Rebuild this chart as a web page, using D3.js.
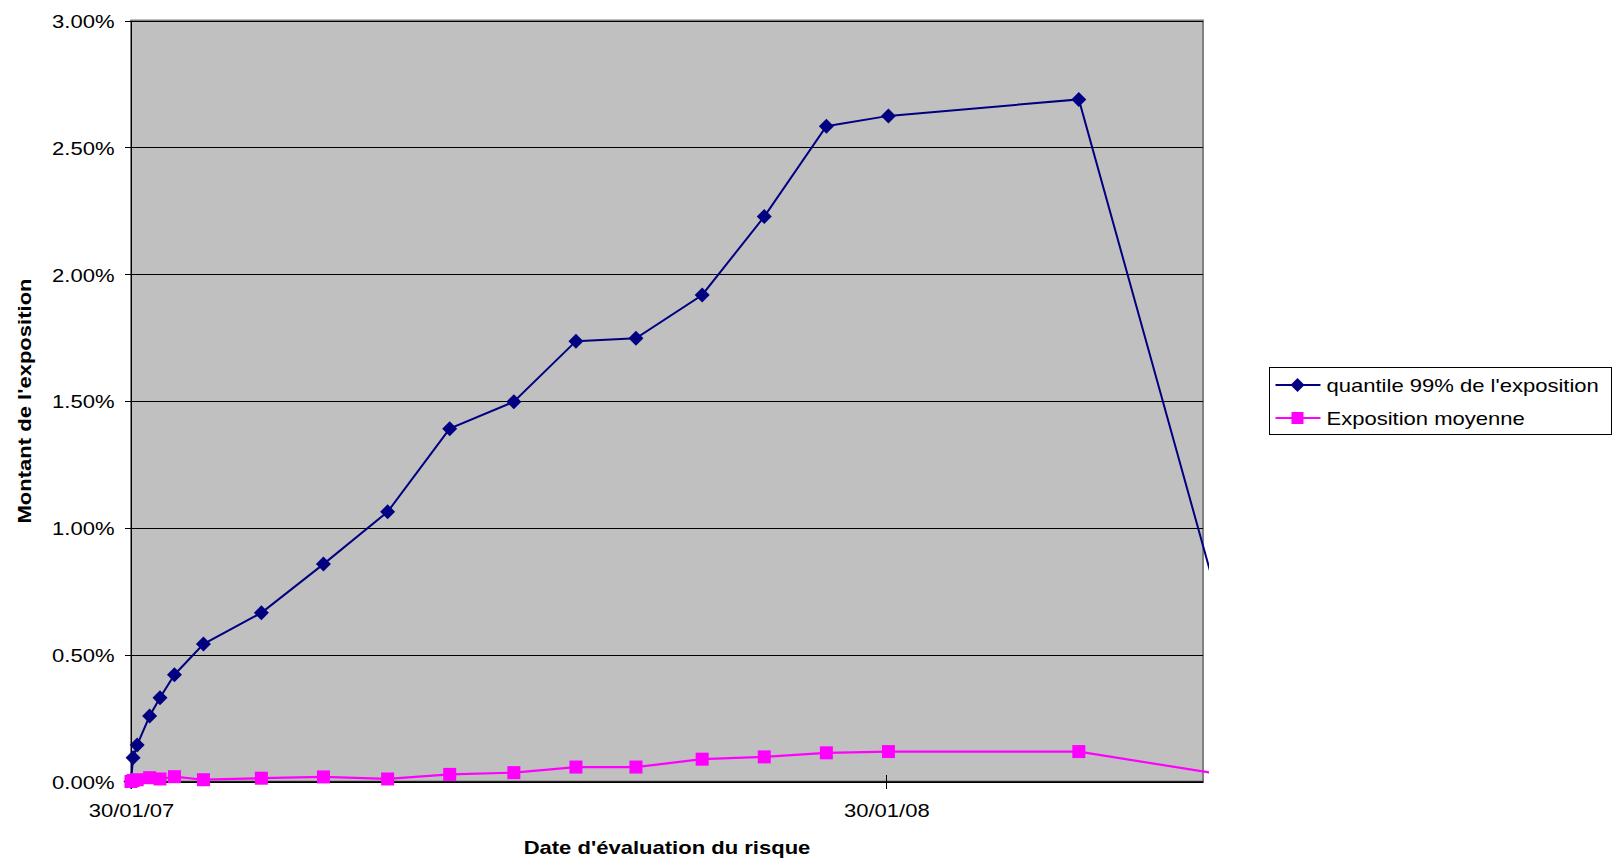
<!DOCTYPE html>
<html>
<head>
<meta charset="utf-8">
<script src="https://cdn.jsdelivr.net/npm/d3@7"></script>
<style>
  html, body { margin: 0; padding: 0; background: #ffffff; }
  svg { display: block; font-family: "Liberation Sans", Arial, sans-serif; }
</style>
</head>
<body>
<svg id="chart" width="1616" height="859"></svg>
<script>
// Evaluation dates (dd/mm/yy)
const evalDates = [
  "30/01/07", "31/01/07", "02/02/07", "08/02/07", "13/02/07", "20/02/07",
  "06/03/07", "03/04/07", "03/05/07", "03/06/07", "03/07/07", "03/08/07",
  "02/09/07", "01/10/07", "02/11/07", "02/12/07", "01/01/08", "31/01/08",
  "02/05/08", "31/07/08"
];
// 99% quantile of the exposure (in %)
const quantile99 = [
  0.000, 0.094, 0.144, 0.258, 0.330, 0.421,
  0.542, 0.665, 0.857, 1.063, 1.391, 1.497,
  1.736, 1.747, 1.918, 2.227, 2.583, 2.624,
  2.689, 0.050
];
// Mean exposure (in %)
const meanExposure = [
  0.000, 0.004, 0.007, 0.015, 0.010, 0.019,
  0.007, 0.013, 0.018, 0.010, 0.028, 0.035,
  0.057, 0.057, 0.088, 0.097, 0.113, 0.118,
  0.118, 0.000
];
const seriesNames = ["quantile 99% de l'exposition", "Exposition moyenne"];
const yTickValues = [0, 0.5, 1.0, 1.5, 2.0, 2.5, 3.0];
const xTickLabels = ["30/01/07", "30/01/08"];
const xAxisEnd = "01/07/08";
const xTitle = "Date d'évaluation du risque";
const yTitle = "Montant de l'exposition";

const parse = d3.timeParse("%d/%m/%y");
const fmtDate = d3.timeFormat("%d/%m/%y");
const fmtPct = v => d3.format(".2f")(v) + "%";

// Layout
const plot = { left: 131, right: 1203, top: 20.5, bottom: 781.5 };
const STRETCH = 1.16;      // wide rendering of the text face
const FONT = 19;
const colors = { q: "#000080", m: "#ff00ff", plotBg: "#c0c0c0" };

const svg = d3.select("#chart");

const x = d3.scaleTime()
  .domain([parse(evalDates[0]), parse(xAxisEnd)])
  .range([plot.left, plot.right]);
const y = d3.scaleLinear()
  .domain([0, 3])
  .range([plot.bottom, plot.top]);

// Plot background
svg.append("rect")
  .attr("x", plot.left).attr("y", plot.top)
  .attr("width", plot.right - plot.left)
  .attr("height", plot.bottom - plot.top)
  .attr("fill", colors.plotBg)
  .attr("stroke", "#808080")
  .attr("stroke-width", 2);

// Horizontal gridlines
const grid = svg.append("g")
  .attr("transform", `translate(${plot.left},0)`)
  .call(d3.axisLeft(y).tickValues(yTickValues).tickSize(-(plot.right - plot.left)).tickFormat(""));
grid.select(".domain").remove();
grid.selectAll("line").attr("stroke", "#000").attr("stroke-width", 1).attr("shape-rendering", "crispEdges");

// Y axis
const yAxis = svg.append("g")
  .attr("transform", `translate(${plot.left},0)`)
  .call(d3.axisLeft(y).tickValues(yTickValues).tickSize(6).tickSizeOuter(0).tickFormat(fmtPct));
yAxis.select(".domain").attr("stroke", "#000").attr("shape-rendering", "crispEdges");
yAxis.selectAll("line").attr("stroke", "#000").attr("shape-rendering", "crispEdges");
yAxis.selectAll("text")
  .attr("x", null).attr("dy", null)
  .attr("font-size", FONT)
  .attr("fill", "#000")
  .attr("text-anchor", "end")
  .attr("dominant-baseline", "central")
  .attr("transform", `translate(-16.5,0) scale(${STRETCH},1)`);

// X axis
const xAxis = svg.append("g")
  .attr("transform", `translate(0,${plot.bottom})`)
  .call(d3.axisBottom(x).tickValues(xTickLabels.map(parse)).tickSize(7).tickSizeOuter(0).tickFormat(fmtDate));
xAxis.select(".domain").attr("stroke", "#000").attr("stroke-width", 1.5);
xAxis.selectAll(".tick line").attr("y1", -7).attr("stroke", "#000").attr("shape-rendering", "crispEdges");
xAxis.selectAll("text")
  .attr("y", null).attr("dy", null)
  .attr("font-size", FONT)
  .attr("fill", "#000")
  .attr("text-anchor", "middle")
  .attr("dominant-baseline", "central")
  .attr("transform", `translate(0,28.5) scale(${STRETCH},1)`);

// Axis titles
svg.append("text")
  .attr("transform", `translate(${(plot.left + plot.right) / 2},847) scale(${STRETCH},1)`)
  .attr("text-anchor", "middle")
  .attr("dominant-baseline", "central")
  .attr("font-size", FONT)
  .attr("font-weight", "bold")
  .text(xTitle);

svg.append("text")
  .attr("transform", `translate(24,${(plot.top + plot.bottom) / 2}) rotate(-90) scale(${STRETCH},1)`)
  .attr("text-anchor", "middle")
  .attr("dominant-baseline", "central")
  .attr("font-size", FONT)
  .attr("font-weight", "bold")
  .text(yTitle);

// Series (clipped just past the plot's right edge)
svg.append("clipPath").attr("id", "seriesClip")
  .append("rect")
  .attr("x", 0).attr("y", 0)
  .attr("width", plot.right + 6).attr("height", 859);

const dates = evalDates.map(parse);
const qData = dates.map((d, i) => ({ d, v: quantile99[i] }));
const mData = dates.map((d, i) => ({ d, v: meanExposure[i] }));
const line = d3.line().x(p => x(p.d)).y(p => y(p.v));

const series = svg.append("g").attr("clip-path", "url(#seriesClip)");

const diamondPath = (s) => `M0,${-s}L${s},0L0,${s}L${-s},0Z`;
const SQ = 13;

// Quantile series
series.append("path")
  .datum(qData)
  .attr("d", line)
  .attr("fill", "none")
  .attr("stroke", colors.q)
  .attr("stroke-width", 2);
series.append("g").selectAll("path")
  .data(qData)
  .join("path")
  .attr("transform", p => `translate(${x(p.d)},${y(p.v)})`)
  .attr("d", diamondPath(7.5))
  .attr("fill", colors.q);

// Mean series
series.append("path")
  .datum(mData)
  .attr("d", line)
  .attr("fill", "none")
  .attr("stroke", colors.m)
  .attr("stroke-width", 2.2);
series.append("g").selectAll("rect")
  .data(mData)
  .join("rect")
  .attr("x", p => x(p.d) - SQ / 2)
  .attr("y", p => y(p.v) - SQ / 2)
  .attr("width", SQ).attr("height", SQ)
  .attr("fill", colors.m);

// Legend
const legend = svg.append("g").attr("transform", "translate(1269.5,367.5)");
legend.append("rect")
  .attr("width", 342).attr("height", 67)
  .attr("fill", "#fff").attr("stroke", "#000").attr("stroke-width", 1);
const rows = [
  { name: seriesNames[0], color: colors.q, shape: "diamond" },
  { name: seriesNames[1], color: colors.m, shape: "square" }
];
rows.forEach((r, i) => {
  const g = legend.append("g").attr("transform", `translate(0,${17.5 + i * 33})`);
  g.append("line").attr("x1", 6).attr("x2", 51).attr("y1", 0).attr("y2", 0)
    .attr("stroke", r.color).attr("stroke-width", 2);
  if (r.shape === "diamond") {
    g.append("path").attr("transform", "translate(28,0)").attr("d", diamondPath(7)).attr("fill", r.color);
  } else {
    g.append("rect").attr("x", 22).attr("y", -6).attr("width", 12).attr("height", 12).attr("fill", r.color);
  }
  g.append("text")
    .attr("transform", `translate(57,0) scale(${STRETCH},1)`)
    .attr("dominant-baseline", "central")
    .attr("font-size", FONT)
    .attr("fill", "#000")
    .text(r.name);
});
</script>
</body>
</html>
